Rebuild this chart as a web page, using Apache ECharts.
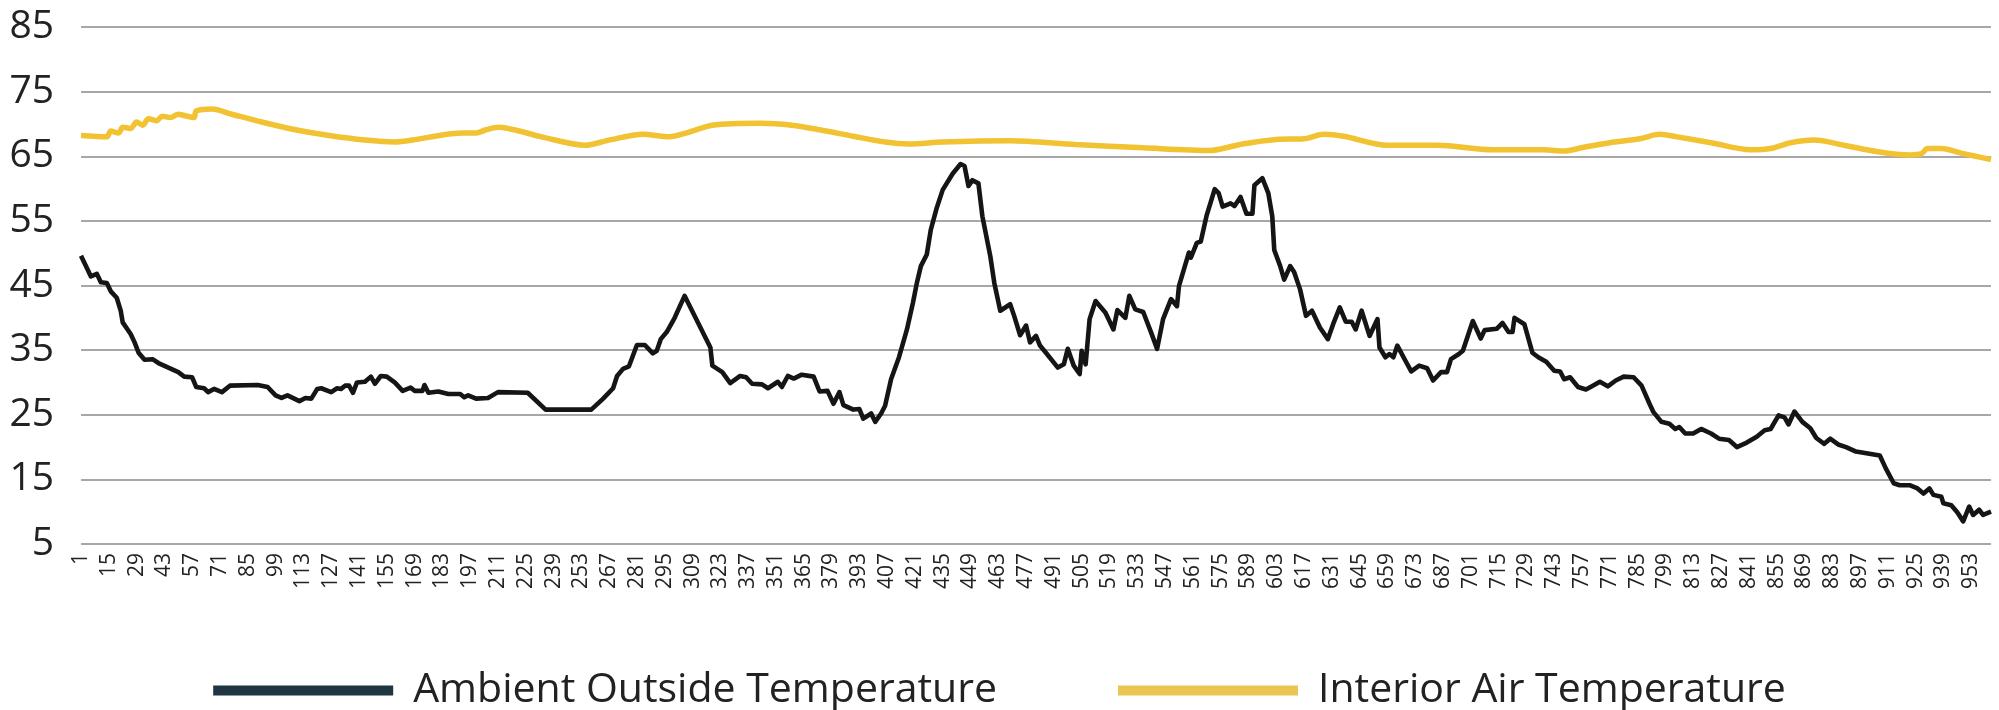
<!DOCTYPE html>
<html>
<head>
<meta charset="utf-8">
<script src="https://cdn.jsdelivr.net/npm/echarts@6/dist/echarts.min.js"></script>
<style>
html,body{margin:0;padding:0;background:#fff;}
#chart{width:1999px;height:710px;}
</style>
</head>
<body>
<div id="chart"></div>
<script>
// Category labels (time step index 1..963)
var categoryCount = 963;
var categories = [];
for (var i = 1; i <= categoryCount; i++) categories.push(String(i));

// Ambient Outside Temperature: [category, value]
var ambient = [
[1,49.6],[6,46.4],[9,46.8],[11,45.5],[14,45.4],[16,44.1],[19,43.1],[21,41.1],[22,39.3],[26,37.5],[28,36.2],[30,34.6],[33,33.5],[37,33.6],[40,33.0],[45,32.3],[50,31.6],[53,30.9],[57,30.8],[59,29.3],[63,29.1],[65,28.5],[68,29.0],[72,28.5],[76,29.5],[90,29.6],[95,29.3],[99,28.0],[102,27.6],[105,28.0],[111,27.1],[114,27.6],[117,27.5],[120,29.0],[122,29.1],[127,28.5],[130,29.1],[132,29.0],[134,29.5],[136,29.5],[138,28.4],[140,30.0],[144,30.1],[147,30.9],[149,29.8],[152,31.0],[155,30.9],[159,30.0],[163,28.7],[167,29.2],[169,28.7],[173,28.7],[174,29.6],[176,28.4],[181,28.6],[186,28.2],[192,28.2],[194,27.7],[196,28.0],[200,27.5],[206,27.6],[211,28.5],[226,28.4],[235,25.8],[258,25.8],[264,27.5],[269,29.1],[271,31.0],[274,32.1],[277,32.5],[281,35.8],[285,35.8],[289,34.5],[291,34.9],[293,36.7],[296,37.8],[300,40.0],[305,43.4],[318,35.4],[319,32.6],[324,31.6],[328,29.9],[333,31.0],[336,30.8],[339,29.8],[344,29.7],[347,29.1],[352,30.1],[354,29.3],[357,31.0],[360,30.6],[364,31.2],[370,30.9],[373,28.6],[377,28.7],[380,26.7],[383,28.5],[385,26.5],[390,25.8],[393,25.9],[395,24.4],[399,25.2],[401,23.9],[404,25.2],[406,26.4],[409,30.5],[413,33.9],[417,38.2],[420,42.3],[422,45.4],[424,48.0],[427,49.8],[429,53.6],[432,57.0],[435,59.8],[440,62.3],[444,63.8],[446,63.5],[448,60.4],[450,61.3],[453,60.8],[455,55.7],[459,49.5],[461,45.4],[464,41.1],[469,42.1],[471,40.3],[474,37.3],[477,38.8],[479,36.2],[482,37.2],[484,35.7],[487,34.6],[493,32.3],[496,32.8],[498,35.2],[501,32.6],[504,31.3],[505,34.9],[507,32.8],[509,39.8],[512,42.6],[517,40.8],[521,38.2],[523,41.2],[527,40.0],[529,43.4],[532,41.3],[536,40.9],[540,37.7],[543,35.2],[546,39.8],[550,42.9],[553,41.8],[554,44.9],[559,50.1],[560,49.3],[563,51.6],[565,51.8],[568,55.9],[572,59.9],[574,59.3],[576,57.2],[580,57.7],[582,57.3],[585,58.7],[588,56.1],[591,56.1],[592,60.5],[596,61.6],[599,59.3],[601,55.7],[602,50.5],[605,48.0],[607,45.9],[610,48.0],[612,47.1],[615,44.4],[618,40.3],[621,41.1],[625,38.5],[629,36.7],[632,39.3],[635,41.6],[638,39.4],[641,39.4],[643,38.2],[646,41.1],[650,37.2],[654,39.8],[655,35.4],[658,33.9],[660,34.4],[662,33.9],[664,35.7],[668,33.4],[671,31.7],[675,32.6],[679,32.2],[682,30.3],[686,31.6],[689,31.6],[691,33.6],[695,34.4],[697,34.9],[702,39.5],[706,36.8],[708,38.1],[714,38.3],[717,39.2],[720,37.8],[722,37.8],[723,40.0],[728,39.0],[732,34.6],[735,33.9],[739,33.2],[743,31.8],[746,31.7],[748,30.5],[751,30.8],[755,29.3],[759,28.9],[762,29.4],[766,30.1],[770,29.4],[774,30.3],[778,30.9],[783,30.8],[787,29.5],[791,26.7],[793,25.4],[797,23.9],[801,23.6],[804,22.8],[806,23.1],[809,22.1],[813,22.1],[817,22.8],[822,22.1],[826,21.3],[831,21.1],[835,20.0],[840,20.7],[845,21.6],[849,22.6],[852,22.8],[856,24.9],[859,24.6],[861,23.5],[864,25.5],[868,23.9],[872,22.9],[875,21.4],[879,20.5],[882,21.3],[886,20.4],[890,20.0],[895,19.3],[901,19.0],[907,18.7],[910,16.7],[914,14.4],[917,14.1],[922,14.1],[926,13.6],[929,12.8],[932,13.6],[934,12.6],[938,12.3],[939,11.3],[943,11.0],[946,9.9],[949,8.5],[952,10.8],[954,9.5],[957,10.3],[959,9.5],[963,10.0]
];

// Interior Air Temperature: [category, value]
var interior = [
[1,68.2],[14,68.0],[16,68.9],[20,68.6],[22,69.5],[26,69.3],[29,70.3],[32,69.8],[35,70.8],[39,70.5],[42,71.2],[46,71.0],[50,71.5],[53,71.3],[58,71.0],[59,72.0],[67,72.3],[77,71.5],[92,70.3],[109,69.1],[126,68.2],[144,67.5],[159,67.2],[168,67.5],[183,68.3],[193,68.6],[200,68.6],[205,69.1],[211,69.5],[233,68.0],[255,66.7],[267,67.5],[284,68.4],[297,68.0],[307,68.7],[319,69.8],[343,70.1],[359,69.8],[373,69.1],[390,68.1],[406,67.2],[418,66.9],[435,67.2],[469,67.4],[502,66.8],[536,66.3],[570,65.9],[576,66.2],[586,66.9],[603,67.6],[617,67.7],[627,68.4],[637,68.1],[659,66.7],[684,66.7],[712,66.0],[738,66.0],[748,65.8],[758,66.4],[771,67.1],[786,67.7],[796,68.4],[805,68.0],[822,67.1],[842,66.0],[852,66.2],[862,67.1],[874,67.5],[889,66.7],[906,65.7],[922,65.2],[928,65.4],[931,66.2],[938,66.2],[949,65.4],[963,64.5]
];

var yMin = 5, yMax = 85, yStep = 10;
var seriesNames = ['Ambient Outside Temperature', 'Interior Air Temperature'];

function toPairs(arr) {
  return arr.map(function (p) { return [String(p[0]), p[1]]; });
}

var chart = echarts.init(document.getElementById('chart'), null, {renderer: 'canvas'});
chart.setOption({
  animation: false,
  backgroundColor: '#ffffff',
  textStyle: {fontFamily: '"Open Sans", sans-serif'},
  grid: {left: 81, right: 8, top: 27, bottom: 166, containLabel: false},
  legend: {
    left: 'center',
    top: 665,
    icon: 'rect',
    itemWidth: 180,
    itemHeight: 10,
    itemGap: 121,
    textStyle: {fontSize: 41, color: '#222', fontFamily: '"Open Sans", sans-serif', padding: [0, 0, 0, 15]},
    data: [
      {name: seriesNames[0], itemStyle: {color: '#1f3541'}},
      {name: seriesNames[1], itemStyle: {color: '#ebc552'}}
    ]
  },
  xAxis: {
    type: 'category',
    data: categories,
    boundaryGap: false,
    axisLine: {show: false},
    axisTick: {show: false},
    splitLine: {show: false},
    axisLabel: {
      interval: 13,
      rotate: 90,
      fontSize: 21,
      color: '#222',
      margin: 9,
      fontFamily: '"Open Sans", sans-serif'
    }
  },
  yAxis: {
    type: 'value',
    min: yMin,
    max: yMax,
    interval: yStep,
    axisLine: {show: false},
    axisTick: {show: false},
    axisLabel: {fontSize: 39, color: '#222', margin: 27, fontFamily: '"Open Sans", sans-serif'},
    splitLine: {lineStyle: {color: '#8a8a8a', width: 1.6}}
  },
  series: [
    {
      name: seriesNames[0],
      type: 'line',
      data: toPairs(ambient),
      showSymbol: false,
      symbol: 'none',
      lineStyle: {color: '#151515', width: 4.6, join: 'round'},
      itemStyle: {color: '#151515'},
      z: 3
    },
    {
      name: seriesNames[1],
      type: 'line',
      data: toPairs(interior),
      showSymbol: false,
      symbol: 'none',
      smooth: 0.3,
      lineStyle: {color: '#f1c232', width: 5.5},
      itemStyle: {color: '#f1c232'},
      z: 2
    }
  ]
});
</script>
</body>
</html>
